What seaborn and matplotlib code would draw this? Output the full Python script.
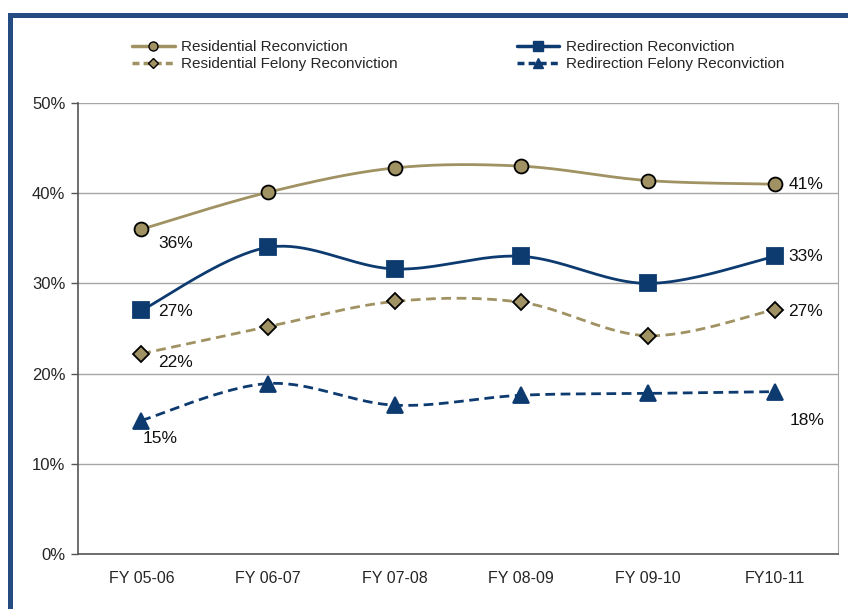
import numpy as np
import pandas as pd
import seaborn as sns
import matplotlib.pyplot as plt
from matplotlib.lines import Line2D
from matplotlib.patches import Rectangle

# Data (percent)
years = ['FY 05-06', 'FY 06-07', 'FY 07-08', 'FY 08-09', 'FY 09-10', 'FY10-11']
residential = [36.0, 40.1, 42.8, 43.0, 41.4, 41.0]
redirection = [27.0, 34.0, 31.6, 33.0, 30.0, 33.0]
residential_felony = [22.2, 25.2, 28.0, 27.9, 24.2, 27.1]
redirection_felony = [14.8, 18.9, 16.5, 17.6, 17.8, 18.0]

names = ['Residential Reconviction', 'Redirection Reconviction',
         'Residential Felony Reconviction', 'Redirection Felony Reconviction']
gold = '#A09262'
navy = '#0D3B70'
colors = {names[0]: gold, names[1]: navy, names[2]: gold, names[3]: navy}
dashes = {names[0]: '', names[1]: '', names[2]: (3.5, 2), names[3]: (3.5, 2)}
markers = {names[0]: 'o', names[1]: 's', names[2]: 'D', names[3]: '^'}
msizes = {names[0]: 10, names[1]: 11, names[2]: 8.5, names[3]: 11}
series = dict(zip(names, [residential, redirection, residential_felony, redirection_felony]))


def smooth(y, n=40):
    # Excel-style smoothed line (Catmull-Rom Bezier)
    y = np.asarray(y, float)
    x = np.arange(len(y), dtype=float)
    xs, ys = [], []
    for i in range(len(y) - 1):
        p0 = i - 1 if i > 0 else i
        p3 = i + 2 if i + 2 < len(y) else i + 1
        c1x = x[i] + (x[i + 1] - x[p0]) / 6
        c1y = y[i] + (y[i + 1] - y[p0]) / 6
        c2x = x[i + 1] - (x[p3] - x[i]) / 6
        c2y = y[i + 1] - (y[p3] - y[i]) / 6
        t = np.linspace(0, 1, n)
        bx = (1-t)**3*x[i] + 3*(1-t)**2*t*c1x + 3*(1-t)*t**2*c2x + t**3*x[i+1]
        by = (1-t)**3*y[i] + 3*(1-t)**2*t*c1y + 3*(1-t)*t**2*c2y + t**3*y[i+1]
        xs.extend(bx)
        ys.extend(by)
    return xs, ys


rows = []
for name, vals in series.items():
    xs, ys = smooth(vals)
    for a, b in zip(xs, ys):
        rows.append({'x': a, 'y': b, 'series': name})
curves = pd.DataFrame(rows)

pts = pd.DataFrame([{'x': i, 'y': v, 'series': name}
                    for name, vals in series.items() for i, v in enumerate(vals)])

sns.set_style('white')
plt.rcParams['font.family'] = ['Liberation Sans', 'DejaVu Sans']

fig = plt.figure(figsize=(8.48, 6.09), dpi=100)
ax = fig.add_axes([78 / 848, 1 - 554 / 609, (838 - 78) / 848, (554 - 103) / 609])

sns.lineplot(data=curves, x='x', y='y', hue='series', style='series',
             palette=colors, dashes=dashes, linewidth=2.0, sort=False,
             estimator=None, legend=False, ax=ax, zorder=3)
for name in names:
    sub = pts[pts['series'] == name]
    ax.plot(sub['x'], sub['y'], linestyle='none', marker=markers[name],
            markersize=msizes[name], markerfacecolor=colors[name],
            markeredgecolor='black' if name in (names[0], names[2]) else colors[name],
            markeredgewidth=1.3, zorder=4)

# data labels at first and last points (offsets in points)
first_off = {names[0]: (12, -10), names[1]: (12, -1), names[2]: (12, -6), names[3]: (1, -13)}
last_off = {names[0]: (10, 0), names[1]: (10, 0), names[2]: (10, -1.5), names[3]: (11, -21)}
for name, vals in series.items():
    ax.annotate(f'{round(vals[0])}%', (0, vals[0]), xytext=first_off[name],
                textcoords='offset points', ha='left', va='center', fontsize=12.5, color='#111111')
    ax.annotate(f'{round(vals[-1])}%', (len(vals) - 1, vals[-1]), xytext=last_off[name],
                textcoords='offset points', ha='left', va='center', fontsize=12.5, color='#111111')

ax.set_xlim(-0.5, len(years) - 0.5)
ax.set_ylim(0, 50)
ax.set_yticks(range(0, 51, 10))
ax.set_yticklabels([f'{v}%' for v in range(0, 51, 10)], fontsize=12)
ax.set_xticks(range(len(years)))
ax.set_xticklabels(years, fontsize=11.5)
ax.set_xticks(np.arange(-0.5, len(years), 1), minor=True)
ax.tick_params(axis='x', which='major', length=0, pad=12)
ax.tick_params(axis='x', which='minor', length=6, width=1, color='#555555', direction='out')
ax.tick_params(axis='y', length=5, width=1, color='#555555', direction='out', left=True, pad=4)
ax.set_xlabel('')
ax.set_ylabel('')
ax.yaxis.grid(True, color='#A6A6A6', linewidth=1)
ax.set_axisbelow(True)
for s in ['left', 'bottom']:
    ax.spines[s].set_color('#555555')
    ax.spines[s].set_linewidth(1.2)
ax.spines['right'].set_color('#A6A6A6')
ax.spines['top'].set_visible(False)

handles = [Line2D([], [], color=colors[n], linewidth=2.5,
                  linestyle='-' if dashes[n] == '' else (0, (2, 1.2)),
                  marker=markers[n], markersize=msizes[n] * 0.65, markerfacecolor=colors[n],
                  markeredgecolor='black' if n in (names[0], names[2]) else colors[n])
           for n in names]
order = [0, 2, 1, 3]
fig.legend([handles[i] for i in order], [names[i] for i in order], ncol=2,
           loc='upper center', bbox_to_anchor=(0.54, 0.957), frameon=False,
           fontsize=11, handlelength=2.8, handletextpad=0.4, columnspacing=7.8,
           labelspacing=0.2)

fig.add_artist(Rectangle((9.5 / 848, -0.1), 2, 1 - 14.5 / 609 + 0.1,
                         transform=fig.transFigure, fill=False,
                         edgecolor='#244B82', linewidth=3.6))

plt.savefig('out.png', dpi=100)
